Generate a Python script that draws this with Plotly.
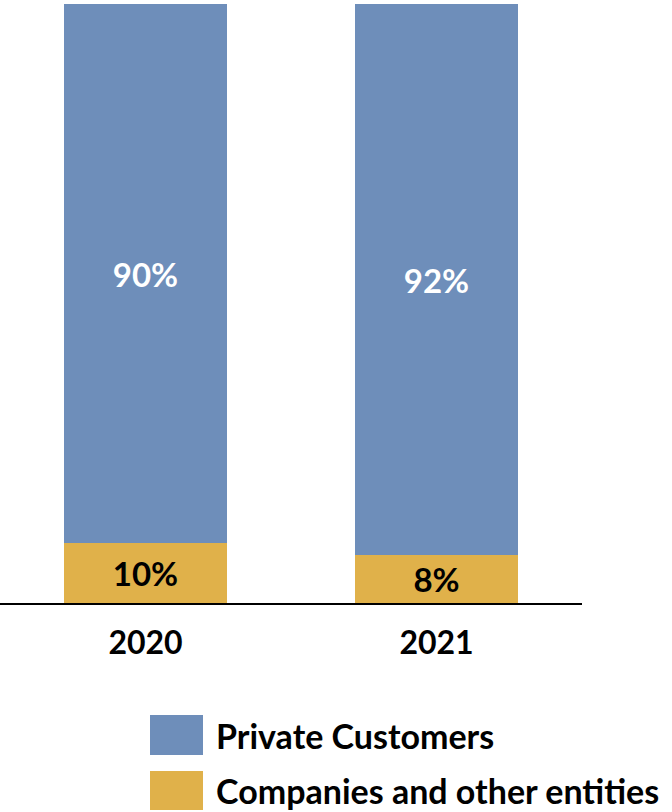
import plotly.graph_objects as go

# Customer mix by year (share of total, %)
years = ["2020", "2021"]
series_names = ["Private Customers", "Companies and other entities"]
private_share = [90, 92]
companies_share = [10, 8]

BLUE = "#6E8EBA"
GOLD = "#E0B14A"
FONT = "Lato"

W, H = 672, 812
M_L, M_R, M_T, M_B = 0, 90, 4, 209
plot_w = W - M_L - M_R
plot_h = H - M_T - M_B

fig = go.Figure()

fig.add_trace(go.Bar(
    x=years, y=companies_share, name=series_names[1],
    marker=dict(color=GOLD, line=dict(width=0)),
    text=[f"{v}%" for v in companies_share], textposition="inside",
    insidetextanchor="middle", constraintext="none",
    textfont=dict(family=FONT, size=33, color="black", weight="bold"),
    hoverinfo="skip",
))
fig.add_trace(go.Bar(
    x=years, y=private_share, name=series_names[0],
    marker=dict(color=BLUE, line=dict(width=0)),
    text=[f"{v}%" for v in private_share], textposition="inside",
    insidetextanchor="middle", constraintext="none",
    textfont=dict(family=FONT, size=33, color="white", weight="bold"),
    hoverinfo="skip",
))

# Custom legend: large swatches with bold labels below the chart
def px_x(px):
    return (px - M_L) / plot_w

def px_y(py):
    return (H - M_B - py) / plot_h

legend_rows = [
    (series_names[0], BLUE, 715, 755),
    (series_names[1], GOLD, 771, 810),
]
shapes = []
annotations = []
for name, color, top, bottom in legend_rows:
    shapes.append(dict(
        type="rect", xref="paper", yref="paper",
        x0=px_x(150), x1=px_x(203), y0=px_y(bottom), y1=px_y(top),
        fillcolor=color, line=dict(width=0),
    ))
    annotations.append(dict(
        xref="paper", yref="paper", x=px_x(214), y=px_y((top + bottom) / 2),
        xanchor="left", yanchor="middle", text=name, showarrow=False,
        font=dict(family=FONT, size=34, color="black", weight="bold"),
    ))

fig.update_layout(
    width=W, height=H,
    margin=dict(l=M_L, r=M_R, t=M_T, b=M_B),
    barmode="stack", bargap=0.443,
    paper_bgcolor="white", plot_bgcolor="white",
    showlegend=False,
    shapes=shapes, annotations=annotations,
    xaxis=dict(
        range=[-0.5, 1.5], showline=True, linecolor="black", linewidth=2,
        showgrid=False, zeroline=False, ticks="",
        tickfont=dict(family=FONT, size=32, color="black", weight="bold"),
        ticklabelstandoff=11,
    ),
    yaxis=dict(range=[0, 100], visible=False, showgrid=False, zeroline=False),
)

fig.write_html("out.html")
